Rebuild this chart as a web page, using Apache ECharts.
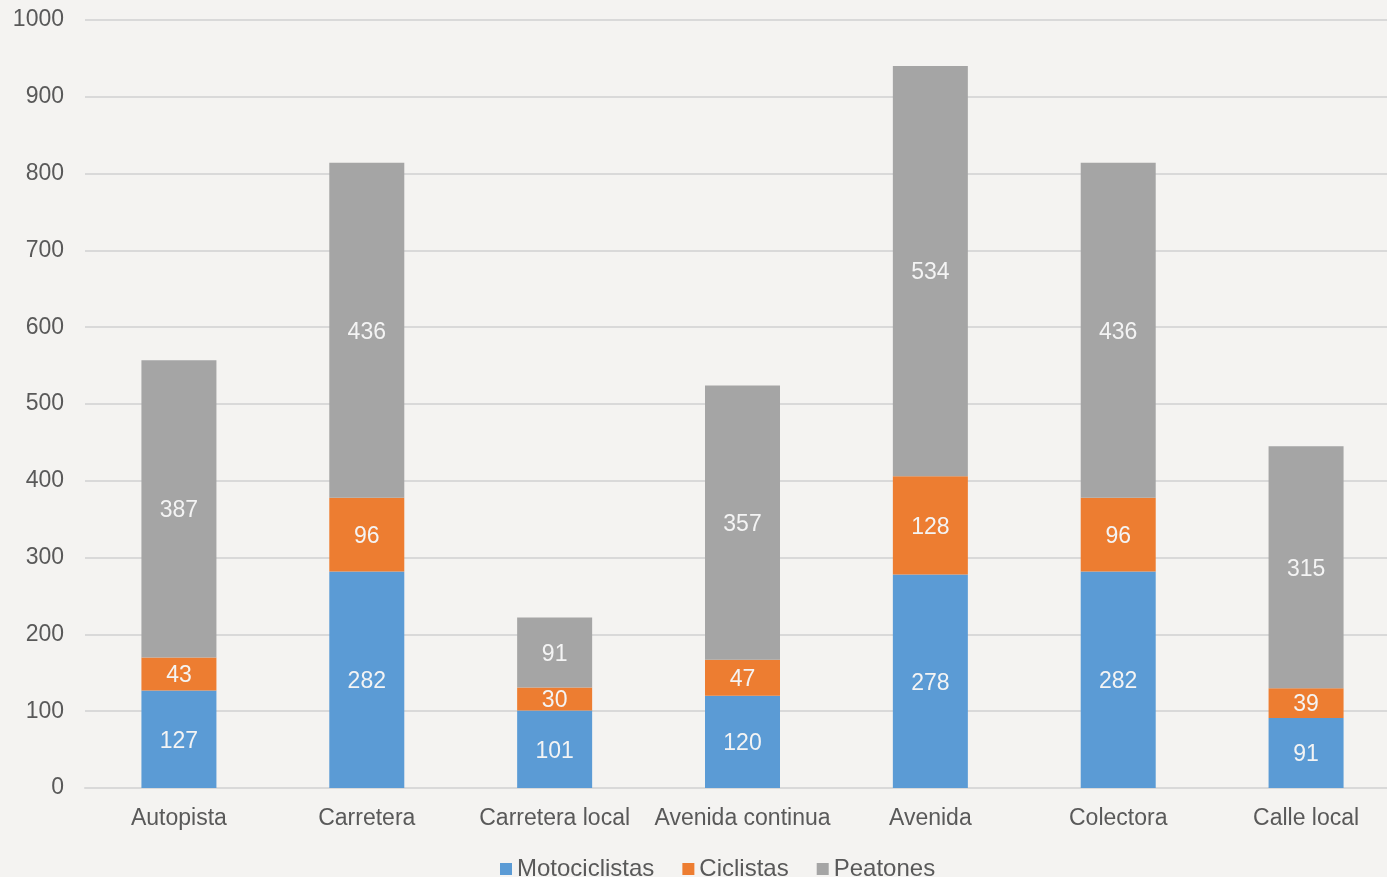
<!DOCTYPE html>
<html><head><meta charset="utf-8">
<script src="https://cdn.jsdelivr.net/npm/echarts@6/dist/echarts.min.js"></script>
<style>html,body{margin:0;padding:0;background:#f4f3f1;}#c{width:1387px;height:877px;}</style>
</head><body><div id="c"></div>
<script>
const categories = ['Autopista','Carretera','Carretera local','Avenida continua','Avenida','Colectora','Calle local'];
const motociclistas = [127,282,101,120,278,282,91];
const ciclistas = [43,96,30,47,128,96,39];
const peatones = [387,436,91,357,534,436,315];
const yTicks = {min:0,max:1000,interval:100};

const chart = echarts.init(document.getElementById('c'));
const font = 'Liberation Sans, Arial, sans-serif';
function s(name, data, color){
  return {name, type:'bar', stack:'t', data, barWidth:75,
    itemStyle:{color},
    label:{show:true, position:'inside', color:'#f4f4f4', fontSize:23, fontFamily:font, offset:[0,2]},
    emphasis:{disabled:true}};
}
chart.setOption({
  backgroundColor:'#f4f3f1',
  animation:false,
  grid:{left:85,width:1315,top:20,bottom:89,containLabel:false,outerBoundsMode:'none'},
  legend:{top:852,left:495,itemWidth:12,itemHeight:12,itemGap:28,icon:'rect',
    textStyle:{color:'#595959',fontSize:24,fontFamily:font},
    data:['Motociclistas','Ciclistas','Peatones']},
  xAxis:{type:'category',data:categories,
    axisLine:{lineStyle:{color:'#d9d9d9',width:2}},axisTick:{show:false},
    axisLabel:{color:'#595959',fontSize:23,fontFamily:font,margin:19,interval:0}},
  yAxis:{type:'value',min:yTicks.min,max:yTicks.max,interval:yTicks.interval,
    axisLine:{show:false},axisTick:{show:false},
    splitLine:{lineStyle:{color:'#d9d9d9',width:2}},
    axisLabel:{color:'#595959',fontSize:23,fontFamily:font,margin:21,formatter:v=>String(v)}},
  series:[s('Motociclistas',motociclistas,'#5b9bd5'),s('Ciclistas',ciclistas,'#ed7d31'),s('Peatones',peatones,'#a5a5a5')]
});
</script></body></html>
